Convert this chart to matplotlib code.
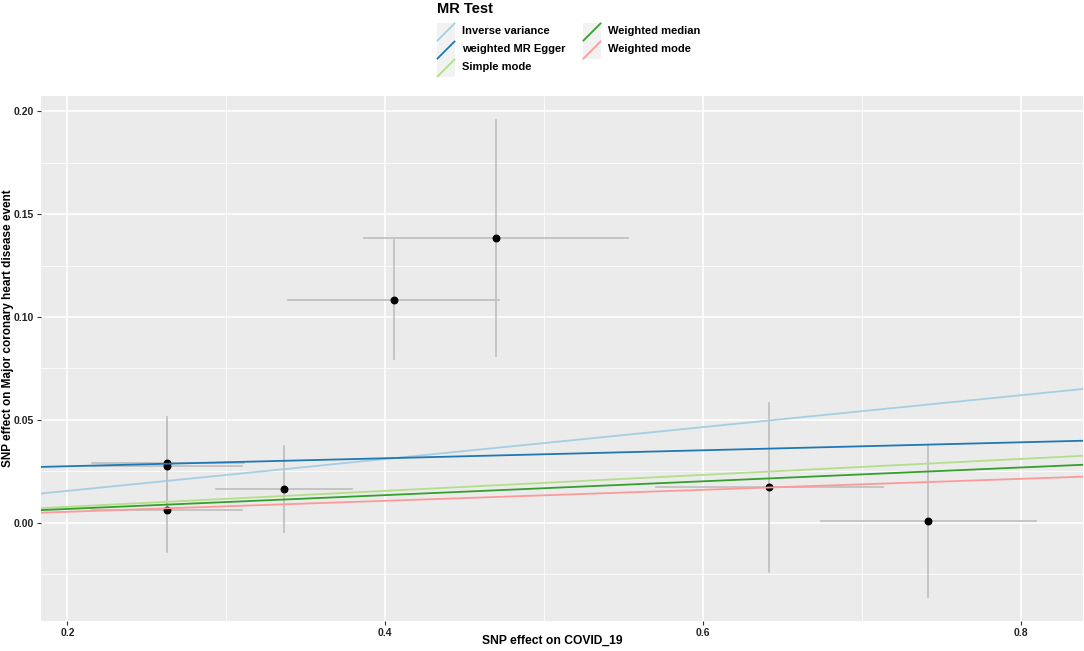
import matplotlib
matplotlib.use("Agg")
import matplotlib.pyplot as plt
from matplotlib.patches import Rectangle

plt.rcParams["font.family"] = ["Liberation Sans", "DejaVu Sans"]
plt.rcParams["font.weight"] = "bold"

# ---- data -------------------------------------------------------------------
snp_x = [0.2626, 0.2626, 0.2626, 0.3364, 0.4056, 0.4700, 0.6418, 0.7419]
snp_y = [0.0289, 0.0277, 0.0062, 0.0164, 0.1084, 0.1384, 0.0174, 0.0008]
x_lo = [0.2156, 0.2156, 0.2156, 0.2936, 0.3388, 0.3869, 0.5705, 0.6743]
x_hi = [0.3113, 0.3100, 0.3096, 0.3792, 0.4717, 0.5531, 0.7132, 0.8094]
y_lo = [0.0064, 0.0057, -0.0143, -0.0045, 0.0794, 0.0812, -0.0238, -0.0360]
y_hi = [0.0514, 0.0497, 0.0267, 0.0374, 0.1374, 0.1958, 0.0583, 0.0378]

methods = ["Inverse variance", "weighted MR Egger", "Simple mode",
           "Weighted median", "Weighted mode"]
intercepts = [0.0, 0.0236, 0.0, 0.0, 0.0]
slopes = [0.0775, 0.0194, 0.0388, 0.0336, 0.0267]
colors = ["#A6CEE3", "#1F78B4", "#B2DF8A", "#33A02C", "#FB9A99"]

x_ticks = [0.2, 0.4, 0.6, 0.8]
y_ticks = [0.00, 0.05, 0.10, 0.15, 0.20]

W, H = 1084, 651
fig = plt.figure(figsize=(W / 100, H / 100), dpi=100)

# panel
top, bottom = 95.7, 620.7
ax = fig.add_axes([41 / W, 1 - bottom / H, (1083 - 41) / W, (bottom - top) / H])
ax.set_facecolor("#EBEBEB")
for s in ax.spines.values():
    s.set_visible(False)
ax.set_xlim(0.1834, 0.8392)
ax.set_ylim(-0.0476, 0.2076)
ax.set_xticks(x_ticks)
ax.set_xticklabels([f"{t:.1f}" for t in x_ticks])
ax.set_yticks(y_ticks)
ax.set_yticklabels([f"{t:.2f}" for t in y_ticks])
ax.set_xticks([0.3, 0.5, 0.7], minor=True)
ax.set_yticks([-0.025, 0.025, 0.075, 0.125, 0.175], minor=True)
ax.grid(which="major", color="white", lw=1.1)
ax.grid(which="minor", color="white", lw=0.55)
ax.set_axisbelow(True)
ax.tick_params(which="major", length=3, width=0.8, color="#333333",
               labelsize=7.5, labelcolor="#222222", pad=2)
ax.tick_params(which="minor", length=0)

for i in range(len(snp_x)):
    ax.plot([snp_x[i], snp_x[i]], [y_lo[i], y_hi[i]], color="#BEBEBE", lw=1.2, zorder=2)
    ax.plot([x_lo[i], x_hi[i]], [snp_y[i], snp_y[i]], color="#BEBEBE", lw=1.2, zorder=2)
ax.scatter(snp_x, snp_y, s=22, color="black", zorder=3)

for b0, b1, c in zip(intercepts, slopes, colors):
    ax.axline((0, b0), slope=b1, color=c, lw=1.3, zorder=4)

# axis titles placed as in the reference (ggplot keeps them tight to the edge)
fig.text(552 / W, 1 - 641 / H, "SNP effect on COVID_19", fontsize=8.7, fontweight="bold",
         ha="center", va="center")
fig.text(8 / W, 1 - 328 / H, "SNP effect on Major coronary heart disease event",
         fontsize=8.5, fontweight="bold", rotation=90, ha="center", va="center")

# legend drawn as in ggplot (grey key boxes with a diagonal line)
lg = fig.add_axes([0, 0, 1, 1], facecolor="none")
lg.set_xlim(0, W)
lg.set_ylim(H, 0)
lg.axis("off")
lg.text(437, 9, "MR Test", fontsize=10.5, fontweight="bold", va="center", ha="left")
col_x = [437, 583]
row_y = [23, 41, 59]
for k, (name, c) in enumerate(zip(methods, colors)):
    col, row = divmod(k, 3)
    x0, y0 = col_x[col], row_y[row]
    lg.add_patch(Rectangle((x0, y0), 18, 18, facecolor="#F2F2F2", edgecolor="none"))
    lg.plot([x0 + 0.5, x0 + 17.5], [y0 + 17.5, y0 + 0.5], color=c, lw=1.3)
    lg.text(x0 + 25, y0 + 8.5, name, fontsize=8, fontweight="bold", va="center", ha="left")

fig.savefig("out.png", dpi=100)
